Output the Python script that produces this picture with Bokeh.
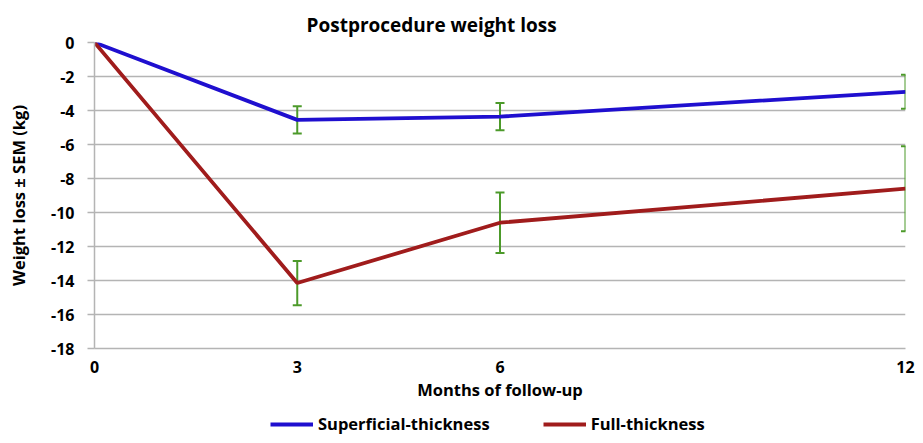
from bokeh.plotting import figure
from bokeh.layouts import column
from bokeh.models import (Whisker, ColumnDataSource, Legend, LegendItem,
                          FixedTicker, TeeHead)
from bokeh.embed import file_html
from bokeh.resources import INLINE

# ---- data ----
months = [0, 3, 6, 12]
superficial = [0, -4.55, -4.36, -2.9]
superficial_sem = [0, 0.8, 0.8, 1.0]
full = [0, -14.15, -10.6, -8.6]
full_sem = [0, 1.3, 1.78, 2.5]
y_ticks = [0, -2, -4, -6, -8, -10, -12, -14, -16, -18]
x_ticks = [0, 3, 6, 12]
series_names = ["Superficial-thickness", "Full-thickness"]

FONT = "Open Sans"
BLUE = "#1f0fcf"
RED = "#a01c1c"
GREEN = "#4c9a2a"
GRID = "#b4b4b4"

p = figure(width=915, height=411, x_range=(0, 12), y_range=(-18, 0),
           output_backend="svg", toolbar_location=None,
           min_border_left=94, min_border_right=10,
           min_border_top=42, min_border_bottom=63)

p.title.text = "Postprocedure weight loss"
p.title.align = "left"
p.title.offset = 212
p.title.text_font = FONT
p.title.text_font_size = "19px"
p.title.text_font_style = "bold"
p.title.text_color = "black"

p.outline_line_color = None
p.xgrid.visible = False
p.ygrid.grid_line_color = GRID
p.ygrid.grid_line_width = 1.5

p.yaxis.ticker = FixedTicker(ticks=y_ticks)
p.yaxis.major_label_overrides = {t: str(t) for t in y_ticks}
p.xaxis.ticker = FixedTicker(ticks=x_ticks)
p.xaxis.major_label_overrides = {t: str(t) for t in x_ticks}

for ax in (p.xaxis[0], p.yaxis[0]):
    ax.axis_line_color = GRID
    ax.axis_line_width = 1.5
    ax.major_label_text_font = FONT
    ax.major_label_text_font_style = "bold"
    ax.major_label_text_font_size = "16px"
    ax.major_label_text_color = "black"
    ax.axis_label_text_font = FONT
    ax.axis_label_text_font_style = "bold"
    ax.axis_label_text_font_size = "16.5px"
    ax.axis_label_text_color = "black"
    ax.minor_tick_line_color = None

p.xaxis.major_tick_line_color = None
p.xaxis.major_label_standoff = 6
p.xaxis.axis_label = "Months of follow-up"
p.xaxis.axis_label_standoff = 2

p.yaxis.major_tick_line_color = GRID
p.yaxis.major_tick_line_width = 1.5
p.yaxis.major_tick_out = 7
p.yaxis.major_tick_in = 0
p.yaxis.major_label_standoff = 13
p.yaxis.axis_label = "Weight loss \u00b1 SEM (kg)"
p.yaxis.axis_label_standoff = 18

# error bars (skip baseline)
def err_source(vals, sems):
    return ColumnDataSource(dict(
        x=months[1:],
        upper=[v + s for v, s in zip(vals[1:], sems[1:])],
        lower=[v - s for v, s in zip(vals[1:], sems[1:])],
    ))

for vals, sems in ((superficial, superficial_sem), (full, full_sem)):
    w = Whisker(source=err_source(vals, sems), base="x", upper="upper", lower="lower",
                line_color=GREEN, line_width=2,
                upper_head=TeeHead(size=9, line_color=GREEN, line_width=2),
                lower_head=TeeHead(size=9, line_color=GREEN, line_width=2))
    p.add_layout(w)

p.line(months, superficial, line_color=BLUE, line_width=3.8)
p.line(months, full, line_color=RED, line_width=3.8)

# ---- legend strip below the chart (keys only, drawn off-range) ----
lg = figure(width=915, height=24, x_range=(0, 1), y_range=(0, 1),
            output_backend="svg", toolbar_location=None,
            x_axis_type=None, y_axis_type=None,
            min_border=0)
lg.outline_line_color = None
lg.grid.visible = False
k1 = lg.line(x=[-5, -4], y=[-5, -4], line_color=BLUE, line_width=3.8)
k2 = lg.line(x=[-5, -4], y=[-5, -4], line_color=RED, line_width=3.8)

legend = Legend(items=[LegendItem(label=series_names[0], renderers=[k1]),
                       LegendItem(label=series_names[1], renderers=[k2])],
                orientation="horizontal", location=(176, 0),
                border_line_color=None, background_fill_alpha=0,
                label_text_font=FONT, label_text_font_style="bold",
                label_text_font_size="16.5px", label_text_color="black",
                glyph_width=43, spacing=53, label_standoff=5,
                margin=0, padding=0)
lg.add_layout(legend, "center")

layout = column(p, lg, spacing=0)
open("out.html", "w").write(file_html(layout, INLINE))
